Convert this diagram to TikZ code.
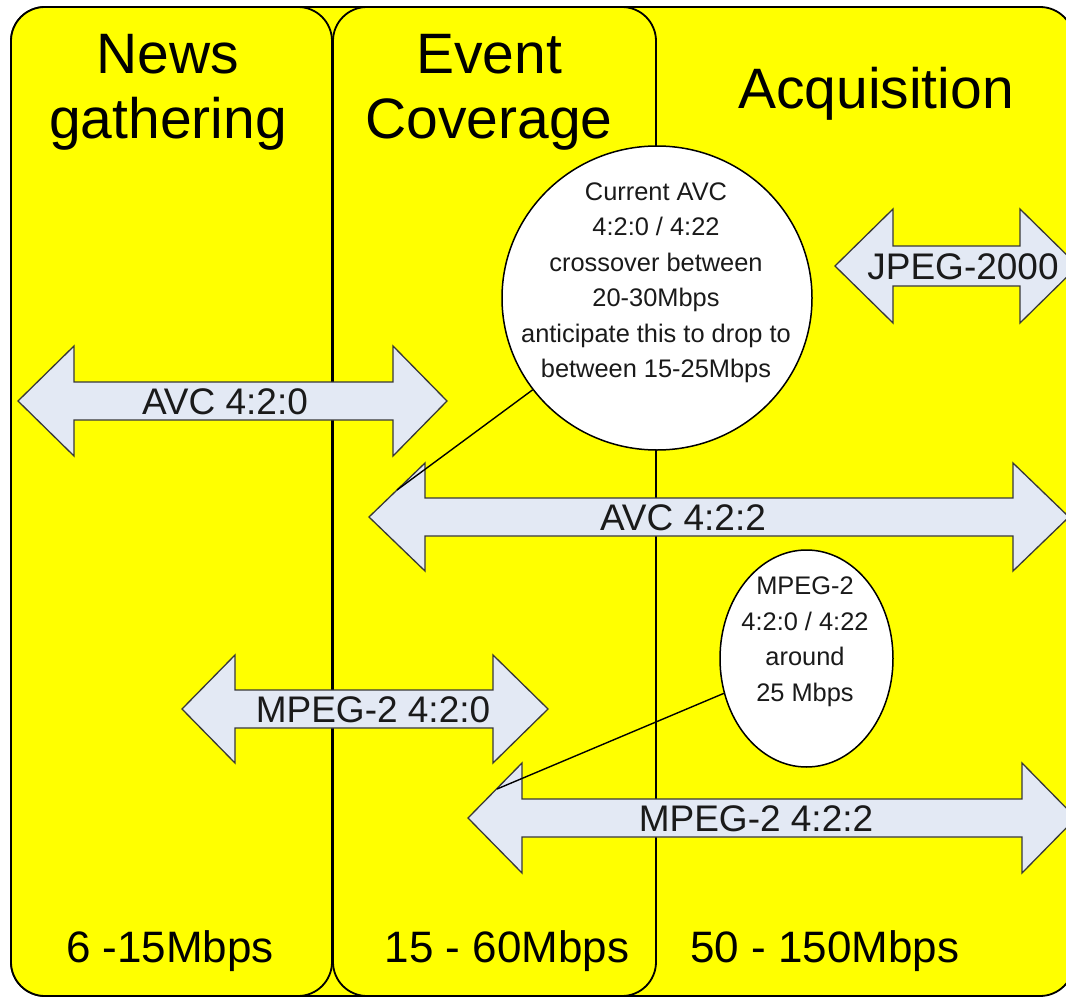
\documentclass[tikz,border=0pt]{standalone}
\usepackage{fontspec}
\setmainfont{Liberation Sans}
\usetikzlibrary{shapes.geometric}
\definecolor{panelyellow}{HTML}{FFFF00}
\definecolor{arrowfill}{HTML}{E3E9F4}
\definecolor{arrowline}{HTML}{383838}
\definecolor{txt}{HTML}{1A1A1A}
% #1 left tip x, #2 left head base x, #3 right head base x, #4 right tip x,
% #5 centre y, #6 half shaft, #7 half head
\newcommand{\dblarrowpath}[7]{%
  \draw[arrowshape] (#1,#5) -- (#2,#5-#7) -- (#2,#5-#6) -- (#3,#5-#6) -- (#3,#5-#7)
    -- (#4,#5) -- (#3,#5+#7) -- (#3,#5+#6) -- (#2,#5+#6) -- (#2,#5+#7) -- cycle;}
\begin{document}
\begin{tikzpicture}[x=1pt,y=-1pt,
  panel/.style={draw=black, line width=1.8pt, fill=panelyellow, rounded corners=34pt},
  arrowshape/.style={draw=arrowline, line width=1.3pt, fill=arrowfill, line join=miter},
  arrowlabel/.style={font=\fontsize{37}{40}\selectfont, text=txt, anchor=base, inner sep=0pt},
  title/.style={font=\fontsize{57}{66}\selectfont, text=black, align=center, anchor=base, inner sep=0pt},
  rate/.style={font=\fontsize{44}{50}\selectfont, text=black, anchor=base, inner sep=0pt},
  note/.style={draw=black, line width=1.5pt, fill=white, ellipse, inner sep=0pt},
  notetext/.style={font=\fontsize{25.4}{35.5}\selectfont, text=txt, align=center, inner sep=0pt},
  connector/.style={draw=black, line width=1.4pt}
]
\useasboundingbox (0,0) rectangle (1066,998);
\clip (0,0) rectangle (1066,998);
\fill[white] (0,0) rectangle (1066,998);

% panels
\draw[panel] (11,7) rectangle (1074,996);
\draw[panel] (11,7) rectangle (332,996);
\draw[panel] (333,7) rectangle (656,996);

% titles (anchor base = baseline of the last line)
\node[title] (news) at (168,139) {News\\gathering};
\node[title] (event) at (489,139) {Event\\Coverage};
\node[title] (acq) at (876,108) {Acquisition};

% rates
\node[rate] (rate1) at (170,962) {6 -15Mbps};
\node[rate] (rate2) at (507,962) {15 - 60Mbps};
\node[rate] (rate3) at (825,962) {50 - 150Mbps};

% double arrows
\dblarrowpath{18}{74}{393}{447}{401}{19}{55}
\node[arrowlabel] (avc420) at (225,414) {AVC 4:2:0};

\dblarrowpath{835}{893}{1020}{1078}{266}{20}{57}
\node[arrowlabel] (jpeg) at (963,279) {JPEG-2000};

\dblarrowpath{369}{425}{1013}{1069}{517}{19}{54}
\node[arrowlabel] (avc422) at (683,530) {AVC 4:2:2};

\dblarrowpath{182}{235}{493}{548}{709}{19}{54}
\node[arrowlabel] (mpeg420) at (373,722) {MPEG-2 4:2:0};

\dblarrowpath{468}{522}{1022}{1076}{818}{19}{55}
\node[arrowlabel] (mpeg422) at (756,831) {MPEG-2 4:2:2};

% notes
\node[note, minimum width=310pt, minimum height=304pt] (avcnote) at (657,298) {};
\node[notetext] (avcnotetext) at (656,283) {Current AVC\\4:2:0 / 4:22\\crossover between\\20-30Mbps\\anticipate this to drop to\\between 15-25Mbps};

\node[note, minimum width=173pt, minimum height=217pt] (mpegnote) at (806.5,658.5) {};
\node[notetext] (mpegnotetext) at (805,642) {MPEG-2\\4:2:0 / 4:22\\around\\25 Mbps};

% connectors
\coordinate (avctip) at (397,490);
\coordinate (mpegtip) at (497,789);
\draw[connector] (avcnote) -- (avctip);
\draw[connector] (mpegnote) -- (mpegtip);
\end{tikzpicture}
\end{document}
